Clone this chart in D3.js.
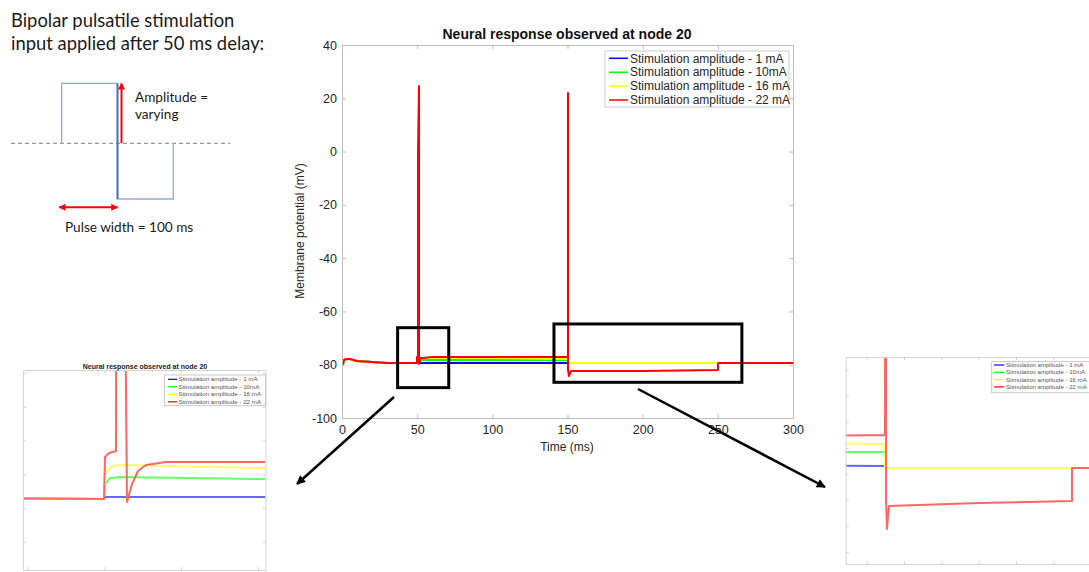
<!DOCTYPE html>
<html lang="en">
<head>
<meta charset="utf-8">
<script src="https://cdn.jsdelivr.net/npm/d3@7"></script>
<style>
  body { margin: 0; background: #fff; }
  svg { display: block; font-family: "Liberation Sans", Arial, sans-serif; }
  .note { font-family: Lato, "Open Sans", sans-serif; fill: #1a1a1a; }
</style>
</head>
<body>
<svg width="1089" height="572"></svg>
<script>
// legend entries and line colours
var seriesNames = ["Stimulation amplitude - 1 mA", "Stimulation amplitude - 10mA",
                   "Stimulation amplitude - 16 mA", "Stimulation amplitude - 22 mA"];
var seriesColors = ["#0000ff", "#00ff00", "#ffff00", "#ff0000"];

// resting part shared by all runs, 0-50 ms (time ms / potential mV)
var restTime = [0, 0.5, 1.5, 3, 5, 10, 20, 30, 40, 50];
var restVolt = [-80.3, -79.6, -78.3, -77.9, -78.0, -78.5, -79.0, -79.3, -79.42, -79.45];

// after the pulse starts
var blueTime = [50.05, 60, 150, 150.05, 300];
var blueVolt = [-79.33, -79.33, -79.35, -79.5, -79.5];

var greenTime = [50.05, 50.4, 51, 60, 100, 150, 150.05, 300];
var greenVolt = [-78.6, -78.22, -78.18, -78.28, -78.3, -78.32, -79.5, -79.5];

var yellowTime = [50.05, 50.5, 51.2, 60, 100, 150, 150.05, 300];
var yellowVolt = [-78.0, -77.5, -77.45, -77.6, -77.65, -77.67, -79.5, -79.5];

var redTime = [50.05, 50.3, 50.75, 50.85, 51.0, 51.15, 51.25, 51.5, 51.8, 52.2, 52.7, 54, 60, 100, 150,
               150.1, 150.25, 150.4, 150.55, 150.95, 152, 200, 249.95, 250.05, 300];
var redVolt = [-77.0, -76.75, -76.6, 0, 24.5, 0, -60, -79.62, -78.6, -77.8, -77.45, -77.3, -77.26, -77.1, -77.0,
               0, 21.8, -30, -82.0, -84.2, -82.44, -82.2, -82.05, -79.5, -79.5];

var xTicksMain = [0, 50, 100, 150, 200, 250, 300];
var yTicksMain = [-100, -80, -60, -40, -20, 0, 20, 40];
var xTicksLeft = [45, 50, 55, 60];
var yTicksLeft = [-82, -80, -78, -76, -74, -72];
var xTicksRight = [140, 160, 180, 200, 220, 240, 260];
var yTicksRight = [-86, -84, -82, -80, -78, -76, -74, -72];

var series = [
  { name: seriesNames[0], color: seriesColors[0], t: restTime.concat(blueTime), v: restVolt.concat(blueVolt) },
  { name: seriesNames[1], color: seriesColors[1], t: restTime.concat(greenTime), v: restVolt.concat(greenVolt) },
  { name: seriesNames[2], color: seriesColors[2], t: restTime.concat(yellowTime), v: restVolt.concat(yellowVolt) },
  { name: seriesNames[3], color: seriesColors[3], t: restTime.concat(redTime), v: restVolt.concat(redVolt) }
];

var svg = d3.select("svg");
var defs = svg.append("defs");

// arrow heads
function marker(id, color, w, h) {
  defs.append("marker").attr("id", id)
    .attr("viewBox", "0 0 10 10").attr("refX", 9).attr("refY", 5)
    .attr("markerUnits", "userSpaceOnUse")
    .attr("markerWidth", w).attr("markerHeight", h)
    .attr("orient", "auto-start-reverse")
    .append("path").attr("d", "M0,0 L10,5 L0,10 z").attr("fill", color);
}
marker("arrBlack", "#000", 11, 9);
marker("arrRed", "#ff0000", 7, 7);

function clip(id, x0, y0, x1, y1) {
  defs.append("clipPath").attr("id", id).append("rect")
    .attr("x", x0).attr("y", y0).attr("width", x1 - x0).attr("height", y1 - y0);
}

// lines snapped to whole pixels so stacked traces cover each other cleanly
function drawTraces(xs, ys, clipId, lw, op) {
  var xr = xs.copy().interpolate(d3.interpolateRound);
  var yr = ys.copy().interpolate(d3.interpolateRound);
  var line = d3.line()
    .x(function (d) { return xr(d[0]); })
    .y(function (d) { return yr(d[1]); });
  svg.append("g").attr("clip-path", "url(#" + clipId + ")")
    .attr("opacity", op)
    .selectAll("path").data(series).enter().append("path")
    .attr("d", function (d) { return line(d3.zip(d.t, d.v)); })
    .attr("fill", "none")
    .attr("stroke", function (d) { return d.color; })
    .attr("stroke-width", lw)
    .attr("stroke-linejoin", "round");
}

function drawFrame(xs, ys, xt, yt, tick, color, fontSize) {
  var xr = xs.range(), yr = ys.range();
  var fmt = fontSize ? function (d) { return String(d); } : function () { return ""; };
  var axes = [
    svg.append("g").attr("transform", "translate(0," + yr[0] + ")")
      .call(d3.axisBottom(xs).tickValues(xt).tickSizeInner(-tick).tickSizeOuter(0).tickPadding(7).tickFormat(fmt)),
    svg.append("g").attr("transform", "translate(0," + yr[1] + ")")
      .call(d3.axisTop(xs).tickValues(xt).tickSizeInner(-tick).tickSizeOuter(0).tickFormat("")),
    svg.append("g").attr("transform", "translate(" + xr[0] + ",0)")
      .call(d3.axisLeft(ys).tickValues(yt).tickSizeInner(-tick).tickSizeOuter(0).tickPadding(5).tickFormat(fmt)),
    svg.append("g").attr("transform", "translate(" + xr[1] + ",0)")
      .call(d3.axisRight(ys).tickValues(yt).tickSizeInner(-tick).tickSizeOuter(0).tickFormat(""))
  ];
  axes.forEach(function (a) {
    a.select(".domain").attr("stroke", color);
    a.selectAll(".tick line").attr("stroke", color);
    a.selectAll("text").attr("fill", "#262626").attr("font-size", fontSize || 0)
      .attr("font-family", "'Liberation Sans', Arial, sans-serif");
  });
}

function drawLegend(x0, y0, w, h, rowY, step, l0, l1, tx, fs, lw, textColor) {
  var g = svg.append("g");
  g.append("rect").attr("x", x0).attr("y", y0).attr("width", w).attr("height", h)
    .attr("fill", "#fff").attr("stroke", "#bdbdbd").attr("stroke-width", 0.8);
  var row = g.selectAll(".row").data(series).enter().append("g")
    .attr("transform", function (d, i) { return "translate(0," + (rowY + i * step) + ")"; });
  row.append("line").attr("x1", l0).attr("x2", l1)
    .attr("stroke", function (d) { return d.color; }).attr("stroke-width", lw);
  row.append("text").attr("x", tx).attr("dy", "0.35em")
    .attr("font-size", fs).attr("fill", textColor)
    .text(function (d) { return d.name; });
}

// ---------- main plot ----------
var x = d3.scaleLinear().domain([0, 300]).range([342, 793]);
var y = d3.scaleLinear().domain([-100, 40]).range([418, 45]);
clip("clipMain", 342, 45, 793, 418);
drawTraces(x, y, "clipMain", 2, 1);
drawFrame(x, y, xTicksMain, yTicksMain, 4, "#bdbdbd", 12.5);

svg.append("text").attr("x", 567).attr("y", 39).attr("text-anchor", "middle")
  .attr("font-size", 14).attr("font-weight", "bold").attr("fill", "#111")
  .text("Neural response observed at node 20");
svg.append("text").attr("x", 567).attr("y", 451).attr("text-anchor", "middle")
  .attr("font-size", 12).attr("fill", "#262626").text("Time (ms)");
svg.append("text").attr("transform", "translate(304,231) rotate(-90)").attr("text-anchor", "middle")
  .attr("font-size", 12).attr("fill", "#262626").text("Membrane potential (mV)");

drawLegend(605, 51, 184, 56, 58.3, 13.9, 609, 628, 630, 12, 1.5, "#262626");

// zoom boxes drawn over the main plot (in data units)
var zoomBoxes = [
  { t0: 37, t1: 71, v0: -88.6, v1: -66.1 },
  { t0: 141, t1: 266, v0: -86.6, v1: -64.7 }
];
svg.selectAll(".zbox").data(zoomBoxes).enter().append("rect")
  .attr("x", function (d) { return x(d.t0); })
  .attr("y", function (d) { return y(d.v1); })
  .attr("width", function (d) { return x(d.t1) - x(d.t0); })
  .attr("height", function (d) { return y(d.v0) - y(d.v1); })
  .attr("fill", "none").attr("stroke", "#000").attr("stroke-width", 3);

// pointers to the zoomed views
var pointers = [[394, 397, 297, 484], [638, 389, 825, 487]];
svg.selectAll(".ptr").data(pointers).enter().append("line")
  .attr("x1", function (d) { return d[0]; }).attr("y1", function (d) { return d[1]; })
  .attr("x2", function (d) { return d[2]; }).attr("y2", function (d) { return d[3]; })
  .attr("stroke", "#000").attr("stroke-width", 2.5)
  .attr("marker-end", "url(#arrBlack)");

// ---------- left zoomed view ----------
var xL = d3.scaleLinear().domain([44.7, 60.5]).range([23, 265.5]);
var yL = d3.scaleLinear().domain([-83.67, -71.82]).range([570, 370]);
clip("clipLeft", 23, 370, 265.5, 570);
drawTraces(xL, yL, "clipLeft", 2, 0.6);
drawFrame(xL, yL, xTicksLeft, yTicksLeft, 3, "#d4d4d4", 0);
svg.append("text").attr("x", 145).attr("y", 368.5).attr("text-anchor", "middle")
  .attr("font-size", 7).attr("font-weight", "bold").attr("fill", "#222")
  .text("Neural response observed at node 20");
drawLegend(164.3, 375, 101.2, 30.7, 379.3, 7.5, 168, 177, 178.5, 6.2, 1.2, "#555");

// ---------- right zoomed view ----------
var xR = d3.scaleLinear().domain([128.75, 265]).range([845.7, 1100]);
var yR = d3.scaleLinear().domain([-86.92, -71]).range([564, 357]);
clip("clipRight", 845.7, 357, 1100, 564);
drawTraces(xR, yR, "clipRight", 2, 0.6);
drawFrame(xR, yR, xTicksRight, yTicksRight, 3, "#d4d4d4", 0);
drawLegend(991.7, 361.7, 110, 31, 365, 7.3, 994, 1004.3, 1006, 6.05, 1.2, "#555");

// ---------- pulse sketch ----------
var pulseTime = [0, 0, 1, 1, 2, 2];
var pulseAmp = [0, 1, 1, -1, -1, 0];
var xp = d3.scaleLinear().domain([0, 2]).range([61.7, 173.3]);
var yp = d3.scaleLinear().domain([-1, 0, 1]).range([199, 143.3, 83.3]);

svg.append("line").attr("x1", 11).attr("x2", 230).attr("y1", yp(0)).attr("y2", yp(0))
  .attr("stroke", "#7f7f7f").attr("stroke-width", 1).attr("stroke-dasharray", "4,3");
svg.append("path")
  .attr("d", d3.line().x(function (d) { return xp(d[0]); }).y(function (d) { return yp(d[1]); })(d3.zip(pulseTime, pulseAmp)))
  .attr("fill", "none").attr("stroke", "#8faadc").attr("stroke-width", 1.3);
svg.append("line").attr("x1", xp(1)).attr("x2", xp(1)).attr("y1", yp(1)).attr("y2", yp(-1))
  .attr("stroke", "#4472c4").attr("stroke-width", 2);

svg.append("line").attr("x1", xp(1) + 4).attr("x2", xp(1) + 4).attr("y1", yp(0)).attr("y2", yp(1))
  .attr("stroke", "#ff0000").attr("stroke-width", 2).attr("marker-end", "url(#arrRed)");
svg.append("line").attr("x1", xp(0) - 2.5).attr("x2", xp(1)).attr("y1", 207.3).attr("y2", 207.3)
  .attr("stroke", "#ff0000").attr("stroke-width", 2)
  .attr("marker-start", "url(#arrRed)").attr("marker-end", "url(#arrRed)");

svg.append("text").attr("class", "note").attr("x", 135).attr("y", 102).attr("font-size", 13.6).text("Amplitude =");
svg.append("text").attr("class", "note").attr("x", 135).attr("y", 119).attr("font-size", 13.6).text("varying");
svg.append("text").attr("class", "note").attr("x", 65).attr("y", 232).attr("font-size", 13.6).text("Pulse width = 100 ms");

svg.append("text").attr("class", "note").attr("x", 11).attr("y", 26.5).attr("font-size", 18.4)
  .text("Bipolar pulsatile stimulation");
svg.append("text").attr("class", "note").attr("x", 11).attr("y", 50).attr("font-size", 18.4)
  .text("input applied after 50 ms delay:");
</script>
</body>
</html>
